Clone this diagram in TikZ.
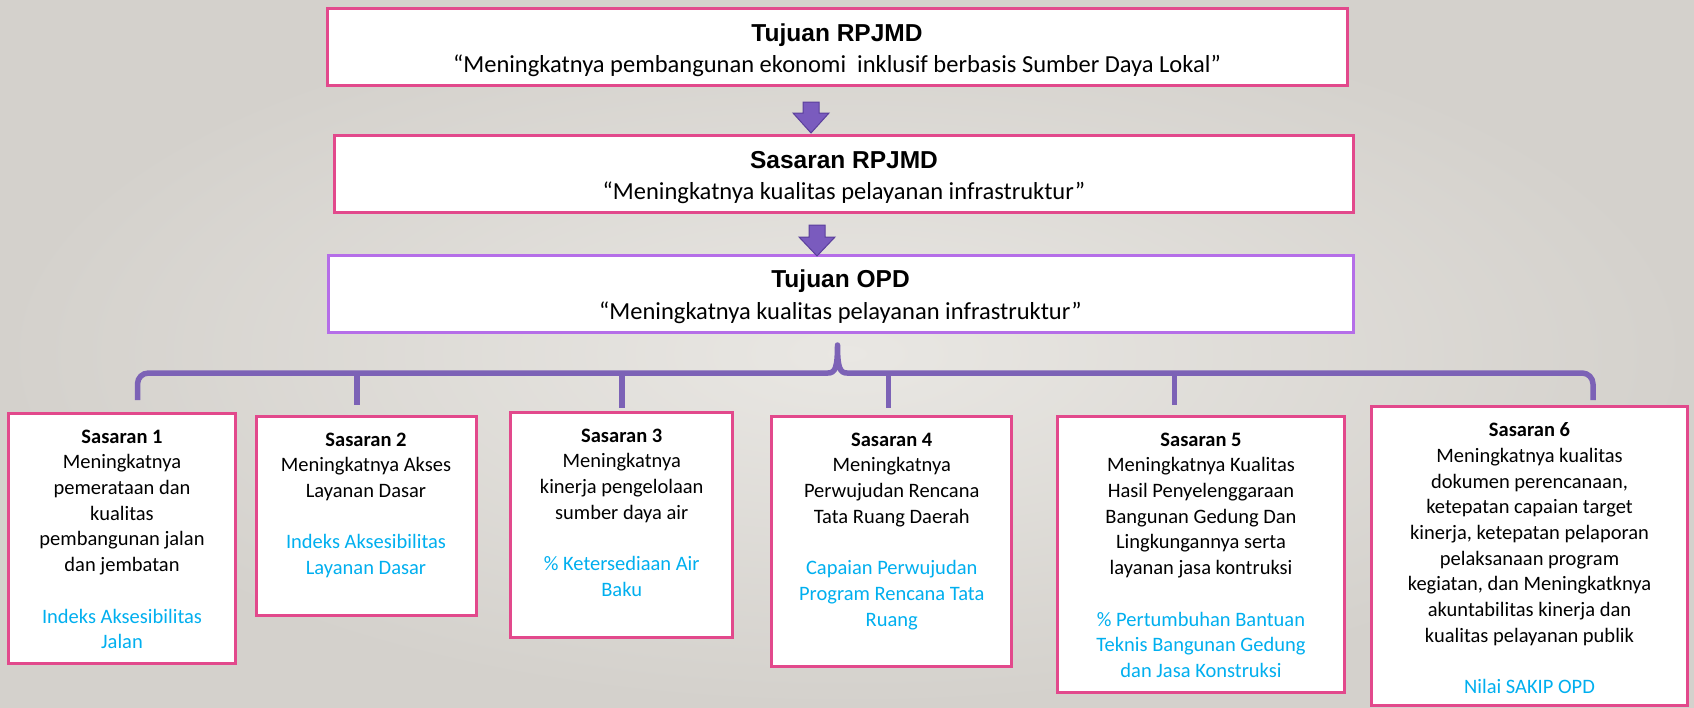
\documentclass[tikz,border=0pt]{standalone}
\usepackage{fontspec}
\setmainfont{Carlito}
\newfontfamily\arialfont{Liberation Sans}

\definecolor{pinkline}{HTML}{E2498C}
\definecolor{violetline}{HTML}{B56EE8}
\definecolor{bracepurple}{HTML}{7C62B6}
\definecolor{arrowfill}{HTML}{7A5BBE}
\definecolor{arrowedge}{HTML}{5B3F9C}
\definecolor{indblue}{HTML}{00AFEF}
\definecolor{bginner}{HTML}{E9E7E3}
\definecolor{bgouter}{HTML}{D4D1CC}

\tikzset{
  topbox/.style={draw=pinkline, fill=white, line width=3pt, inner sep=0pt, align=center,
    minimum height=77pt, font=\fontsize{24.5}{31.5}\selectfont},
  subbox/.style={draw=pinkline, fill=white, line width=3pt, inner sep=0pt},
  subtext/.style={align=center, inner sep=0pt, anchor=north, font=\fontsize{20.5}{25.7}\selectfont},
  brace/.style={draw=bracepurple, line width=5.5pt, line join=round},
  blockarrow/.style={fill=arrowfill, draw=arrowedge, line width=1pt},
}
\newcommand{\toptitle}[1]{{\arialfont\bfseries\fontsize{24.5}{31.5}\selectfont\rule{0pt}{24pt}#1}}
\newcommand{\ind}[1]{\textcolor{indblue}{#1}}

\begin{document}
\begin{tikzpicture}[x=1pt, y=-1pt]

    \useasboundingbox (0,0) rectangle (1694,707);
    \shade[inner color=bginner, outer color=bgouter] (0,0) rectangle (1694,707);

    \node[topbox, minimum width=1020pt] (tujuan) at (837,47)
      {\toptitle{Tujuan RPJMD}\\“Meningkatnya pembangunan ekonomi~ inklusif berbasis Sumber Daya Lokal”};
    \node[topbox, minimum width=1019pt] (sasaran) at (844,174)
      {\toptitle{Sasaran RPJMD}\\“Meningkatnya kualitas pelayanan infrastruktur”};
    \node[topbox, minimum width=1025pt, draw=violetline] (opd) at (840.5,293.5)
      {\toptitle{Tujuan OPD}\\“Meningkatnya kualitas pelayanan infrastruktur”};

    \coordinate (ar1) at (811,102);
    \coordinate (ar2) at (817,225);
    \filldraw[blockarrow] (ar1) +(-8,0) -- +(8,0) -- +(8,11) -- +(18,11) -- +(0,31) -- +(-18,11) -- +(-8,11) -- cycle;
    \filldraw[blockarrow] (ar2) +(-8,0) -- +(8,0) -- +(8,12) -- +(18,12) -- +(0,31) -- +(-18,12) -- +(-8,12) -- cycle;

    \draw[brace] (137.5,400) -- (137.5,384) to[out=90,in=180] (148.5,373) -- (828,373)
      .. controls (835,373) and (837.5,368) .. (837.5,345)
      .. controls (837.5,368) and (840,373) .. (847,373)
      -- (1582,373) to[out=0,in=90] (1593,384) -- (1593,400);
    \coordinate (k2) at (357,373);
    \coordinate (k3) at (622,373);
    \coordinate (k4) at (888.5,373);
    \coordinate (k5) at (1174.5,373);
    \draw[brace] (k2) -- ++(0,32);
    \draw[brace] (k3) -- ++(0,35);
    \draw[brace] (k4) -- ++(0,35);
    \draw[brace] (k5) -- ++(0,32);

    \node[subbox, minimum width=227pt, minimum height=250pt] (s1) at (122,538) {};
    \node[subbox, minimum width=220pt, minimum height=199pt] (s2) at (366,515.5) {};
    \node[subbox, minimum width=222.5pt, minimum height=225pt] (s3) at (621.7,524.5) {};
    \node[subbox, minimum width=240.5pt, minimum height=250pt] (s4) at (891.7,541) {};
    \node[subbox, minimum width=286.5pt, minimum height=276pt] (s5) at (1201,554) {};
    \node[subbox, minimum width=316pt, minimum height=299pt] (s6) at (1529.5,555.5) {};

    \node[subtext] (t1) at ([yshift=-18pt]s1.north) {\textbf{Sasaran 1}\\Meningkatnya\\pemerataan dan\\kualitas\\pembangunan jalan\\dan jembatan\\[25.7pt]\ind{Indeks Aksesibilitas}\\\ind{Jalan}};
    \node[subtext] (t2) at ([yshift=-18pt]s2.north) {\textbf{Sasaran 2}\\Meningkatnya Akses\\Layanan Dasar\\[25.7pt]\ind{Indeks Aksesibilitas}\\\ind{Layanan Dasar}};
    \node[subtext] (t3) at ([yshift=-18pt]s3.north) {\textbf{Sasaran 3}\\Meningkatnya\\kinerja pengelolaan\\sumber daya air\\[25.7pt]\ind{\% Ketersediaan Air}\\\ind{Baku}};
    \node[subtext] (t4) at ([yshift=-18pt]s4.north) {\textbf{Sasaran 4}\\Meningkatnya\\Perwujudan Rencana\\Tata Ruang Daerah\\[25.7pt]\ind{Capaian Perwujudan}\\\ind{Program Rencana Tata}\\\ind{Ruang}};
    \node[subtext] (t5) at ([yshift=-18pt]s5.north) {\textbf{Sasaran 5}\\Meningkatnya Kualitas\\Hasil Penyelenggaraan\\Bangunan Gedung Dan\\Lingkungannya serta\\layanan jasa kontruksi\\[25.7pt]\ind{\% Pertumbuhan Bantuan}\\\ind{Teknis Bangunan Gedung}\\\ind{dan Jasa Konstruksi}};
    \node[subtext] (t6) at ([yshift=-18pt]s6.north) {\textbf{Sasaran 6}\\Meningkatnya kualitas\\dokumen perencanaan,\\ketepatan capaian target\\kinerja, ketepatan pelaporan\\pelaksanaan program\\kegiatan, dan Meningkatknya\\akuntabilitas kinerja dan\\kualitas pelayanan publik\\[25.7pt]\ind{Nilai SAKIP OPD}};

\end{tikzpicture}
\end{document}
